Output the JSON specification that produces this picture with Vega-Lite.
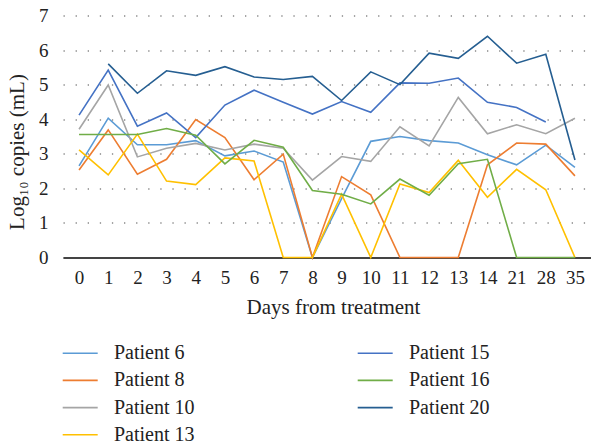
{
  "$schema": "https://vega.github.io/schema/vega-lite/v6.json",
  "autosize": {"type": "none"},
  "padding": {"left": 63, "top": 15.5, "right": 0, "bottom": 187.5},
  "width": 528,
  "height": 242,
  "background": "white",
  "config": {
    "font": "Liberation Serif",
    "view": {"stroke": null}
  },
  "data": {
    "values": [
      {"day": "0", "patient": "Patient 6", "value": 2.65},
      {"day": "1", "patient": "Patient 6", "value": 4.03},
      {"day": "2", "patient": "Patient 6", "value": 3.26},
      {"day": "3", "patient": "Patient 6", "value": 3.26},
      {"day": "4", "patient": "Patient 6", "value": 3.38},
      {"day": "5", "patient": "Patient 6", "value": 2.94},
      {"day": "6", "patient": "Patient 6", "value": 3.08},
      {"day": "7", "patient": "Patient 6", "value": 2.76},
      {"day": "8", "patient": "Patient 6", "value": 0},
      {"day": "9", "patient": "Patient 6", "value": 1.7},
      {"day": "10", "patient": "Patient 6", "value": 3.36},
      {"day": "11", "patient": "Patient 6", "value": 3.5},
      {"day": "12", "patient": "Patient 6", "value": 3.38},
      {"day": "13", "patient": "Patient 6", "value": 3.31},
      {"day": "14", "patient": "Patient 6", "value": 2.97},
      {"day": "21", "patient": "Patient 6", "value": 2.68},
      {"day": "28", "patient": "Patient 6", "value": 3.25},
      {"day": "35", "patient": "Patient 6", "value": 2.61},

      {"day": "0", "patient": "Patient 8", "value": 2.53},
      {"day": "1", "patient": "Patient 8", "value": 3.69},
      {"day": "2", "patient": "Patient 8", "value": 2.41},
      {"day": "3", "patient": "Patient 8", "value": 2.84},
      {"day": "4", "patient": "Patient 8", "value": 3.99},
      {"day": "5", "patient": "Patient 8", "value": 3.47},
      {"day": "6", "patient": "Patient 8", "value": 2.25},
      {"day": "7", "patient": "Patient 8", "value": 2.99},
      {"day": "8", "patient": "Patient 8", "value": 0},
      {"day": "9", "patient": "Patient 8", "value": 2.34},
      {"day": "10", "patient": "Patient 8", "value": 1.81},
      {"day": "11", "patient": "Patient 8", "value": 0},
      {"day": "12", "patient": "Patient 8", "value": 0},
      {"day": "13", "patient": "Patient 8", "value": 0},
      {"day": "14", "patient": "Patient 8", "value": 2.68},
      {"day": "21", "patient": "Patient 8", "value": 3.31},
      {"day": "28", "patient": "Patient 8", "value": 3.28},
      {"day": "35", "patient": "Patient 8", "value": 2.36},

      {"day": "0", "patient": "Patient 10", "value": 3.71},
      {"day": "1", "patient": "Patient 10", "value": 4.99},
      {"day": "2", "patient": "Patient 10", "value": 2.91},
      {"day": "3", "patient": "Patient 10", "value": 3.16},
      {"day": "4", "patient": "Patient 10", "value": 3.3},
      {"day": "5", "patient": "Patient 10", "value": 3.11},
      {"day": "6", "patient": "Patient 10", "value": 3.28},
      {"day": "7", "patient": "Patient 10", "value": 3.16},
      {"day": "8", "patient": "Patient 10", "value": 2.24},
      {"day": "9", "patient": "Patient 10", "value": 2.92},
      {"day": "10", "patient": "Patient 10", "value": 2.78},
      {"day": "11", "patient": "Patient 10", "value": 3.78},
      {"day": "12", "patient": "Patient 10", "value": 3.23},
      {"day": "13", "patient": "Patient 10", "value": 4.63},
      {"day": "14", "patient": "Patient 10", "value": 3.58},
      {"day": "21", "patient": "Patient 10", "value": 3.84},
      {"day": "28", "patient": "Patient 10", "value": 3.58},
      {"day": "35", "patient": "Patient 10", "value": 4.03},

      {"day": "0", "patient": "Patient 13", "value": 3.11},
      {"day": "1", "patient": "Patient 13", "value": 2.39},
      {"day": "2", "patient": "Patient 13", "value": 3.57},
      {"day": "3", "patient": "Patient 13", "value": 2.21},
      {"day": "4", "patient": "Patient 13", "value": 2.11},
      {"day": "5", "patient": "Patient 13", "value": 2.88},
      {"day": "6", "patient": "Patient 13", "value": 2.79},
      {"day": "7", "patient": "Patient 13", "value": 0},
      {"day": "8", "patient": "Patient 13", "value": 0},
      {"day": "9", "patient": "Patient 13", "value": 1.83},
      {"day": "10", "patient": "Patient 13", "value": 0},
      {"day": "11", "patient": "Patient 13", "value": 2.13},
      {"day": "12", "patient": "Patient 13", "value": 1.88},
      {"day": "13", "patient": "Patient 13", "value": 2.81},
      {"day": "14", "patient": "Patient 13", "value": 1.74},
      {"day": "21", "patient": "Patient 13", "value": 2.55},
      {"day": "28", "patient": "Patient 13", "value": 1.96},
      {"day": "35", "patient": "Patient 13", "value": 0},

      {"day": "0", "patient": "Patient 15", "value": 4.12},
      {"day": "1", "patient": "Patient 15", "value": 5.42},
      {"day": "2", "patient": "Patient 15", "value": 3.8},
      {"day": "3", "patient": "Patient 15", "value": 4.18},
      {"day": "4", "patient": "Patient 15", "value": 3.47},
      {"day": "5", "patient": "Patient 15", "value": 4.41},
      {"day": "6", "patient": "Patient 15", "value": 4.84},
      {"day": "7", "patient": "Patient 15", "value": 4.49},
      {"day": "8", "patient": "Patient 15", "value": 4.15},
      {"day": "9", "patient": "Patient 15", "value": 4.51},
      {"day": "10", "patient": "Patient 15", "value": 4.2},
      {"day": "11", "patient": "Patient 15", "value": 5.05},
      {"day": "12", "patient": "Patient 15", "value": 5.04},
      {"day": "13", "patient": "Patient 15", "value": 5.19},
      {"day": "14", "patient": "Patient 15", "value": 4.49},
      {"day": "21", "patient": "Patient 15", "value": 4.34},
      {"day": "28", "patient": "Patient 15", "value": 3.92},

      {"day": "0", "patient": "Patient 16", "value": 3.56},
      {"day": "1", "patient": "Patient 16", "value": 3.56},
      {"day": "2", "patient": "Patient 16", "value": 3.56},
      {"day": "3", "patient": "Patient 16", "value": 3.73},
      {"day": "4", "patient": "Patient 16", "value": 3.54},
      {"day": "5", "patient": "Patient 16", "value": 2.71},
      {"day": "6", "patient": "Patient 16", "value": 3.39},
      {"day": "7", "patient": "Patient 16", "value": 3.19},
      {"day": "8", "patient": "Patient 16", "value": 1.94},
      {"day": "9", "patient": "Patient 16", "value": 1.83},
      {"day": "10", "patient": "Patient 16", "value": 1.55},
      {"day": "11", "patient": "Patient 16", "value": 2.27},
      {"day": "12", "patient": "Patient 16", "value": 1.8},
      {"day": "13", "patient": "Patient 16", "value": 2.71},
      {"day": "14", "patient": "Patient 16", "value": 2.84},
      {"day": "21", "patient": "Patient 16", "value": 0},
      {"day": "28", "patient": "Patient 16", "value": 0},
      {"day": "35", "patient": "Patient 16", "value": 0},

      {"day": "1", "patient": "Patient 20", "value": 5.6},
      {"day": "2", "patient": "Patient 20", "value": 4.75},
      {"day": "3", "patient": "Patient 20", "value": 5.4},
      {"day": "4", "patient": "Patient 20", "value": 5.27},
      {"day": "5", "patient": "Patient 20", "value": 5.52},
      {"day": "6", "patient": "Patient 20", "value": 5.22},
      {"day": "7", "patient": "Patient 20", "value": 5.15},
      {"day": "8", "patient": "Patient 20", "value": 5.24},
      {"day": "9", "patient": "Patient 20", "value": 4.54},
      {"day": "10", "patient": "Patient 20", "value": 5.37},
      {"day": "11", "patient": "Patient 20", "value": 5.0},
      {"day": "12", "patient": "Patient 20", "value": 5.91},
      {"day": "13", "patient": "Patient 20", "value": 5.76},
      {"day": "14", "patient": "Patient 20", "value": 6.4},
      {"day": "21", "patient": "Patient 20", "value": 5.62},
      {"day": "28", "patient": "Patient 20", "value": 5.88},
      {"day": "35", "patient": "Patient 20", "value": 2.82}
    ]
  },
  "mark": {"type": "line", "strokeWidth": 1.6},
  "encoding": {
    "x": {
      "field": "day",
      "type": "ordinal",
      "scale": {
        "type": "point",
        "padding": 0.55,
        "domain": ["0","1","2","3","4","5","6","7","8","9","10","11","12","13","14","21","28","35"]
      },
      "axis": {
        "title": "Days from treatment",
        "titleFont": "Liberation Serif",
        "titleFontSize": 21,
        "titleFontWeight": "normal",
        "titleColor": "#222",
        "titlePadding": 9,
        "titleX": 270,
        "labelFont": "Liberation Serif",
        "labelFontSize": 19,
        "labelColor": "#222",
        "labelAngle": 0,
        "labelPadding": 11,
        "labelDx": 3,
        "ticks": false,
        "domain": true,
        "domainColor": "#444",
        "domainWidth": 2,
        "grid": false
      }
    },
    "y": {
      "field": "value",
      "type": "quantitative",
      "scale": {"domain": [0, 7], "nice": false},
      "axis": {
        "title": "Log₁₀ copies (mL)",
        "titleFont": "Liberation Serif",
        "titleFontSize": 21,
        "titleFontWeight": "normal",
        "titleColor": "#222",
        "titlePadding": 11,
        "titleY": 136,
        "labelFont": "Liberation Serif",
        "labelFontSize": 19,
        "labelColor": "#222",
        "labelPadding": 15,
        "values": [0,1,2,3,4,5,6,7],
        "ticks": false,
        "domain": false,
        "grid": true,
        "gridColor": "#888",
        "gridDash": [1.3, 10.8],
        "gridWidth": 1.3
      }
    },
    "color": {
      "field": "patient",
      "type": "nominal",
      "scale": {
        "domain": ["Patient 6","Patient 8","Patient 10","Patient 13","Patient 15","Patient 16","Patient 20"],
        "range": ["#5B9BD5","#ED7D31","#A5A5A5","#FFC000","#4472C4","#70AD47","#255E91"]
      },
      "legend": {
        "title": null,
        "orient": "none",
        "legendX": 6.2,
        "legendY": 326.7,
        "columns": 2,
        "symbolType": "M-1.75,0L1.75,0",
        "symbolSize": 400,
        "symbolStrokeWidth": 1.6,
        "labelFont": "Liberation Serif",
        "labelFontSize": 20,
        "labelColor": "#222",
        "labelOffset": 22.8,
        "labelLimit": 300,
        "rowPadding": 6.2,
        "columnPadding": 159,
        "gridAlign": "all"
      }
    }
  }
}
